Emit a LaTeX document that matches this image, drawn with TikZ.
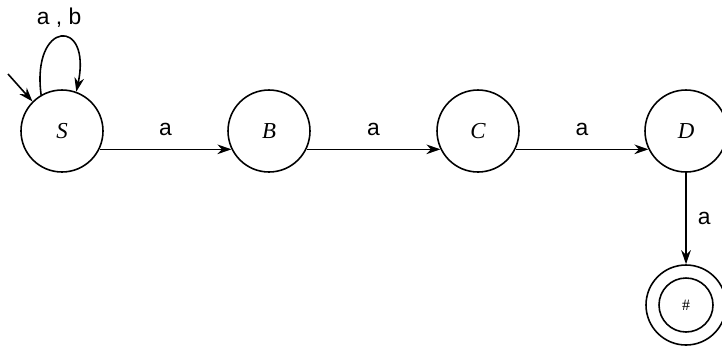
\documentclass[tikz,border=0pt]{standalone}
\usepackage{fontspec}
\setmainfont{Liberation Serif}
\setsansfont{Liberation Sans}
\usetikzlibrary{arrows.meta}

\begin{document}
\begin{tikzpicture}[
  state/.style={draw, circle, line width=0.9pt, minimum size=1.64cm, inner sep=0pt,
    font=\fontsize{13}{13}\selectfont\itshape},
  edge/.style={-{Stealth[length=8pt, width=5.5pt]}, line width=0.9pt},
  lbl/.style={font=\sffamily\fontsize{13}{13}\selectfont}
]
\useasboundingbox (0,0) rectangle (14.44,-6.92);

%% Row of states: S, B, C, D
\def\ry{-2.62}
\def\fy{-6.10}

\node[state] (S) at (1.24,\ry)  {S};
\node[state] (B) at (5.38,\ry)  {B};
\node[state] (C) at (9.56,\ry)  {C};
\node[state] (D) at (13.72,\ry) {D};

%% Final state (two circles)
\node[state, minimum size=1.60cm] (F) at (13.72,\fy) {};
\node[draw, circle, line width=0.9pt, minimum size=1.08cm, inner sep=0pt,
  font=\fontsize{9}{9}\selectfont] (Fin) at (F) {\#};

%% Start arrow
\coordinate (Sin) at (0.16,-1.48);
\draw[edge] (Sin) -- (S.135);

%% Loop on S
\draw[edge] (S.120) .. controls +(-0.2,1.5) and +(0.32,1.5) .. (S.70);
\node[lbl] (Sl) at (1.18,-0.36) {a , b};

%% Transitions (below the centre line)
\draw[edge] (S.-26) -- node[lbl, above=4pt] (ab) {a} (B.206);
\draw[edge] (B.-26) -- node[lbl, above=4pt] (ac) {a} (C.206);
\draw[edge] (C.-26) -- node[lbl, above=4pt] (ad) {a} (D.206);
\draw[edge] (D.south) -- node[lbl, right=3pt] (af) {a} (F.north);

\end{tikzpicture}
\end{document}
